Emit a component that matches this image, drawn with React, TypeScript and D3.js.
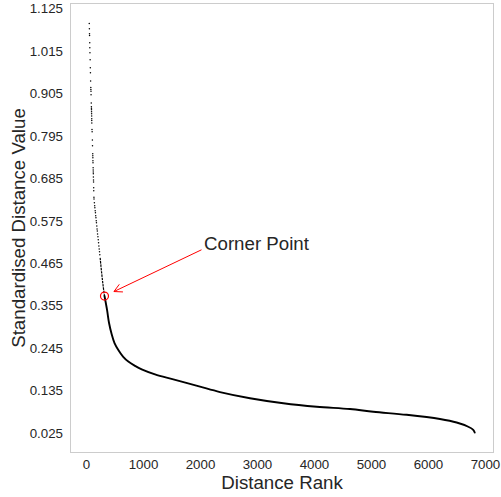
import React from 'react';
import * as d3 from 'd3';

// Sparse head of the ranked distances (individual points)
const SPARSE_RANKS = [48, 50, 52, 53, 56, 58, 60, 63, 66, 68, 72, 75, 76, 78, 79, 83, 85, 86, 87, 88, 89, 90, 91, 92, 93, 96, 98, 102, 105, 109, 110, 111, 112, 113, 116, 117, 118, 119, 120, 122, 123, 126, 127, 130, 131, 137, 143, 146, 152, 156, 161, 165, 170, 174, 180, 185, 189, 194, 200, 205, 211, 216, 222, 228, 233];
const SPARSE_VALUES = [1.087, 1.073, 1.06, 1.056, 1.037, 1.024, 1.011, 0.993, 0.972, 0.959, 0.938, 0.921, 0.916, 0.911, 0.902, 0.881, 0.871, 0.867, 0.863, 0.858, 0.853, 0.847, 0.84, 0.835, 0.829, 0.812, 0.806, 0.785, 0.77, 0.749, 0.744, 0.739, 0.731, 0.726, 0.713, 0.707, 0.702, 0.697, 0.689, 0.681, 0.676, 0.661, 0.653, 0.636, 0.632, 0.622, 0.614, 0.609, 0.601, 0.596, 0.588, 0.583, 0.575, 0.57, 0.562, 0.554, 0.549, 0.541, 0.534, 0.526, 0.518, 0.51, 0.502, 0.495, 0.487];

// Dense body of the ranked distances
const CURVE_RANKS = [239, 266, 290, 315, 360, 395, 439, 491, 558, 640, 733, 851, 968, 1202, 1523, 1991, 2342, 2868, 3453, 4039, 4623, 5032, 5618, 6202, 6495, 6698, 6786, 6812];
const CURVE_VALUES = [0.479, 0.439, 0.408, 0.38, 0.344, 0.31, 0.282, 0.258, 0.24, 0.223, 0.21, 0.199, 0.19, 0.177, 0.164, 0.145, 0.131, 0.115, 0.102, 0.093, 0.087, 0.08, 0.072, 0.061, 0.052, 0.041, 0.033, 0.026];

const X_TICKS = [0, 1000, 2000, 3000, 4000, 5000, 6000, 7000];
const Y_TICK_LABELS = ['0.025', '0.135', '0.245', '0.355', '0.465', '0.575', '0.685', '0.795', '0.905', '1.015', '1.125'];

const CORNER_RANK = 315;
const CORNER_VALUE = 0.38;
const LABEL_RANK = 2000;
const LABEL_VALUE = 0.5;

const W = 501;
const H = 497;
const PLOT = { left: 70, top: 3, right: 494, bottom: 453 };
const TEXT = '#262626';
const FONT = '"Liberation Sans", Arial, sans-serif';

function padded(ext: [number, number]): [number, number] {
  const pad = (ext[1] - ext[0]) * 0.05;
  return [ext[0] - pad, ext[1] + pad];
}

export default function App() {
  const allRanks = [...SPARSE_RANKS, ...CURVE_RANKS];
  const allValues = [...SPARSE_VALUES, ...CURVE_VALUES];
  const x = d3.scaleLinear().domain(padded(d3.extent(allRanks) as [number, number])).range([PLOT.left, PLOT.right]);
  const y = d3.scaleLinear().domain(padded(d3.extent(allValues) as [number, number])).range([PLOT.bottom, PLOT.top]);

  const curve = CURVE_RANKS.map((r, i) => [r, CURVE_VALUES[i]] as [number, number]);
  const line = d3.line<[number, number]>().x(d => x(d[0])).y(d => y(d[1])).curve(d3.curveCatmullRom.alpha(0.5));
  // thinner where the points are still loosely packed, full weight from the corner on
  const head = curve.filter(d => d[0] <= CORNER_RANK);
  const body = curve.filter(d => d[0] >= CORNER_RANK);

  // annotation arrow
  const cx = x(CORNER_RANK);
  const cy = y(CORNER_VALUE);
  const tx = x(LABEL_RANK) + 1;
  const ty = y(LABEL_VALUE);
  const dx = cx - tx;
  const dy = cy - ty;
  const len = Math.hypot(dx, dy);
  const ux = dx / len;
  const uy = dy / len;
  const tipX = cx - ux * 10.5;
  const tipY = cy - uy * 10.5;
  const headLen = 9;
  const ang = (28 * Math.PI) / 180;
  const bx = -ux;
  const by = -uy;
  const arm = (s: number) => [
    tipX + headLen * (bx * Math.cos(s * ang) - by * Math.sin(s * ang)),
    tipY + headLen * (bx * Math.sin(s * ang) + by * Math.cos(s * ang)),
  ];
  const a1 = arm(1);
  const a2 = arm(-1);

  const midX = (PLOT.left + PLOT.right) / 2;
  const midY = (PLOT.top + PLOT.bottom) / 2;

  return (
    <svg width={W} height={H} style={{ position: 'absolute', left: 0, top: 0, background: '#fff' }} fontFamily={FONT}>
      <rect x={PLOT.left + 0.5} y={PLOT.top + 0.5} width={PLOT.right - PLOT.left - 1} height={PLOT.bottom - PLOT.top - 1} fill="#fff" stroke="#cccccc" strokeWidth={1} />

      {Y_TICK_LABELS.map(t => (
        <text key={t} x={63} y={y(+t)} dy="0.35em" textAnchor="end" fontSize={13.3} fill={TEXT}>{t}</text>
      ))}
      {X_TICKS.map(t => (
        <text key={t} x={x(t)} y={469} textAnchor="middle" fontSize={13.3} fill={TEXT}>{t}</text>
      ))}

      <text x={midX} y={489} textAnchor="middle" fontSize={18.7} fill={TEXT}>Distance Rank</text>
      <text transform={`translate(24.5,${midY}) rotate(-90)`} textAnchor="middle" fontSize={18.7} fill={TEXT}>Standardised Distance Value</text>

      {SPARSE_RANKS.map((r, i) => (
        <circle key={i} cx={x(r)} cy={y(SPARSE_VALUES[i])} r={0.75} fill="#000" />
      ))}
      <path d={line(head) ?? ''} fill="none" stroke="#000" strokeWidth={1.2} strokeDasharray="2.5 0.8" />
      <path d={line(body) ?? ''} fill="none" stroke="#000" strokeWidth={1.9} strokeLinecap="round" />

      <circle cx={cx} cy={cy} r={4} fill="none" stroke="#ff0000" strokeWidth={1.2} />
      <line x1={tx} y1={ty} x2={tipX} y2={tipY} stroke="#ff0000" strokeWidth={1} />
      <polyline points={`${a1[0]},${a1[1]} ${tipX},${tipY} ${a2[0]},${a2[1]}`} fill="none" stroke="#ff0000" strokeWidth={1} />
      <text x={x(LABEL_RANK) + 3.5} y={ty} fontSize={18.7} fill={TEXT}>Corner Point</text>
    </svg>
  );
}
